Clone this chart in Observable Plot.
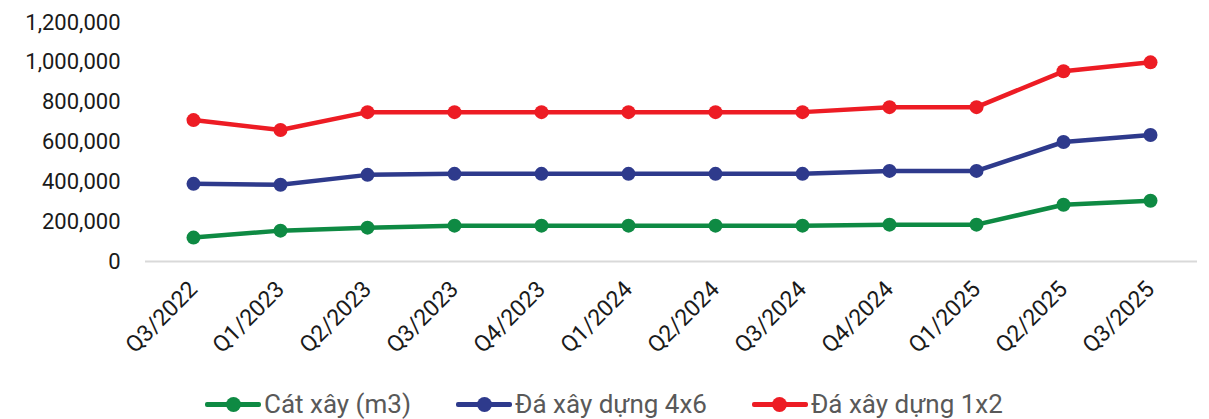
<!DOCTYPE html>
<html>
<head>
<meta charset="utf-8">
<script src="https://cdn.jsdelivr.net/npm/d3@7"></script>
<script src="https://cdn.jsdelivr.net/npm/@observablehq/plot@0.6"></script>
<style>
  html, body { margin: 0; padding: 0; background: #fff; }
  #chart { width: 1209px; height: 419px; position: relative; font-family: Roboto, sans-serif; }
  .legend { display: flex; justify-content: flex-start; align-items: center; height: 42px; padding-left: 205px; font-family: Roboto, sans-serif; font-size: 26px; color: #595959; }
  .item { display: flex; align-items: center; margin-right: 45px; }
  .sw { position: relative; width: 56px; height: 15px; margin-right: 3px; }
  .sw .ln { position: absolute; left: 0; right: 0; top: 5px; height: 5px; border-radius: 2px; }
  .sw .dt { position: absolute; left: 20.5px; top: 0; width: 15px; height: 15px; border-radius: 50%; }
</style>
</head>
<body>
<div id="chart"></div>
<script>
const quarters = ["Q3/2022","Q1/2023","Q2/2023","Q3/2023","Q4/2023","Q1/2024","Q2/2024","Q3/2024","Q4/2024","Q1/2025","Q2/2025","Q3/2025"];
const seriesNames = ["Cát xây (m3)", "Đá xây dựng 4x6", "Đá xây dựng 1x2"];
const seriesColors = ["#0E8A43", "#2E3A8C", "#ED1C24"];
const catXay = [120000,155000,170000,180000,180000,180000,180000,180000,185000,185000,285000,305000];
const da4x6 = [390000,385000,435000,440000,440000,440000,440000,440000,455000,455000,600000,635000];
const da1x2 = [710000,660000,750000,750000,750000,750000,750000,750000,775000,775000,955000,1000000];
const yTicks = [0,200000,400000,600000,800000,1000000,1200000];

const seriesValues = [catXay, da4x6, da1x2];
const data = [];
seriesNames.forEach((s, i) => quarters.forEach((q, j) => data.push({series: s, quarter: q, value: seriesValues[i][j]})));

const plot = Plot.plot({
  width: 1209,
  height: 383,
  marginLeft: 145,
  marginRight: 12,
  marginTop: 22,
  marginBottom: 122,
  style: {fontFamily: "Roboto, sans-serif", fontSize: "22px", color: "#1a1a1a", background: "#fff"},
  x: {type: "point", domain: quarters, padding: 0.5, label: null},
  y: {domain: [0, 1200000], label: null},
  color: {domain: seriesNames, range: seriesColors},
  marks: [
    Plot.ruleY([0], {stroke: "#d9d9d9", strokeWidth: 2}),
    Plot.axisY({ticks: yTicks, tickFormat: d3.format(","), tickSize: 0, tickPadding: 25, label: null, fontSize: 22}),
    Plot.axisX({tickSize: 0, tickPadding: 24, tickRotate: -45, label: null, fontSize: 23}),
    Plot.line(data, {x: "quarter", y: "value", z: "series", stroke: "series", strokeWidth: 4.5}),
    Plot.dot(data, {x: "quarter", y: "value", fill: "series", r: 7, stroke: "none"})
  ]
});
const chart = document.getElementById("chart");
chart.appendChild(plot);

const legend = document.createElement("div");
legend.className = "legend";
seriesNames.forEach((s, i) => {
  const item = document.createElement("div");
  item.className = "item";
  item.innerHTML = `<span class="sw"><span class="ln" style="background:${seriesColors[i]}"></span><span class="dt" style="background:${seriesColors[i]}"></span></span><span>${s}</span>`;
  legend.appendChild(item);
});
chart.appendChild(legend);
</script>
</body>
</html>
